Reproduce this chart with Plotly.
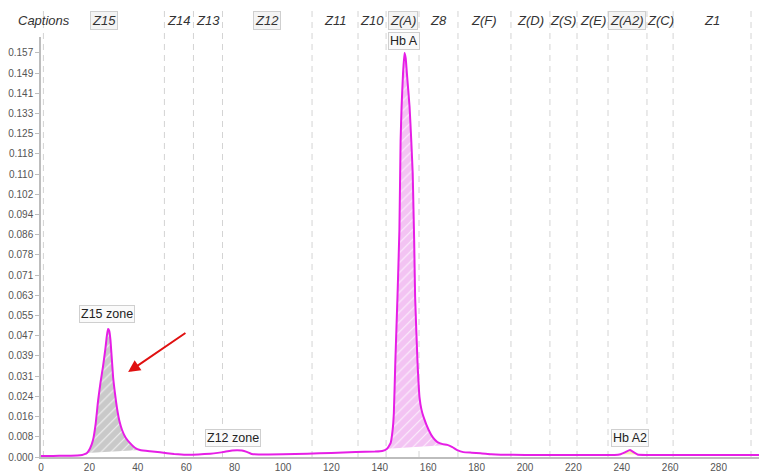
import plotly.graph_objects as go

# ---- data ----
curve_x = [0, 5, 10, 15, 17, 18, 19.0, 20.2, 21.5, 22.6, 23.6, 24.6, 25.6, 26.6, 27.2, 27.7,
           28.2, 28.7, 29.8, 30.6, 31.4, 32.4, 33.5, 35.0, 36.8, 38.8, 40.9, 45, 49.2, 55,
           60, 65, 70, 73, 76, 79, 81, 83, 85, 87, 90, 100, 110, 120, 130, 138, 141,
           143.0, 144.5, 145.3, 145.8, 146.4, 147.3, 148.1, 148.6, 149.0, 149.6, 150.2,
           150.7, 151.2, 152.3, 153.0, 153.6, 153.9, 154.2, 154.6, 155.6, 156.4, 157.2,
           158.1, 160.2, 162.0, 163.8, 166.0, 167.9, 170.0, 172.0, 174.5, 178, 181.6, 186,
           190, 200, 220, 237, 239.5, 241.5, 243.4, 245.0, 246.5, 250, 260, 280, 300]
curve_y = [0.0004, 0.0004, 0.0005, 0.0006, 0.0008, 0.0011, 0.0016, 0.0032, 0.0066, 0.0130, 0.0220,
           0.0290, 0.0350, 0.0420, 0.0470, 0.0497, 0.0490, 0.0455, 0.0310, 0.0245, 0.0190,
           0.0140, 0.0105, 0.0075, 0.0054, 0.0036, 0.0027, 0.0022, 0.0018, 0.0012,
           0.0009, 0.0010, 0.0013, 0.0016, 0.0020, 0.0025, 0.0026, 0.0025, 0.0020, 0.0012,
           0.0010, 0.0011, 0.0013, 0.0016, 0.0019, 0.0021, 0.0023,
           0.0032, 0.0055, 0.0105, 0.0170, 0.0365, 0.0622, 0.0882, 0.1230, 0.1360,
           0.1490, 0.1570, 0.1550, 0.1490, 0.1360, 0.1230, 0.1100, 0.0970, 0.0843, 0.0622,
           0.0365, 0.0233, 0.0185, 0.0155, 0.0105, 0.0075, 0.0058, 0.0050, 0.0047, 0.0038,
           0.0027, 0.0019, 0.0017, 0.0015, 0.0011,
           0.0009, 0.0008, 0.0008, 0.0008, 0.0011, 0.0019, 0.0027, 0.0018, 0.0010, 0.0008,
           0.0008, 0.0008, 0.0008]

zone_names = ["Z15", "Z14", "Z13", "Z12", "Z11", "Z10", "Z(A)", "Z8", "Z(F)", "Z(D)",
              "Z(S)", "Z(E)", "Z(A2)", "Z(C)", "Z1"]
zone_bounds = [1, 51, 63, 75, 112, 131, 142.6, 156.2, 172.3, 194.2, 210.3, 221.5,
               234.3, 250.4, 261.2, 293.4]
boxed_zones = ["Z15", "Z12", "Z(A)", "Z(A2)"]

peak_labels = ["Z15 zone", "Z12 zone", "Hb A", "Hb A2"]
peak_label_x = [27.3, 79.3, 150.2, 243.4]
peak_label_y = [0.0556, 0.0072, 0.1617, 0.0074]

fill_ranges = [(19.0, 40.9), (143.0, 167.9), (239.5, 246.5)]
fill_colors = ["#c9c9c9", "#f3c3f3", "#f6f0b0"]
fill_patterns = ["/", "/", ""]

y_tick_vals = [i * 0.00785 for i in range(21)]
y_tick_text = ["0.000", "0.008", "0.016", "0.024", "0.031", "0.039", "0.047", "0.055",
               "0.063", "0.071", "0.078", "0.086", "0.094", "0.102", "0.110", "0.118",
               "0.125", "0.133", "0.141", "0.149", "0.157"]
x_tick_vals = list(range(0, 301, 20))

CURVE = "#e61ee6"
FONT = "Liberation Sans, Arial, Helvetica, sans-serif"

fig = go.Figure()

# filled peak areas (closed polygon -> straight valley baseline)
for (a, b), col, pat in zip(fill_ranges, fill_colors, fill_patterns):
    sx = [x for x in curve_x if a <= x <= b]
    sy = [y for x, y in zip(curve_x, curve_y) if a <= x <= b]
    kw = {}
    if pat:
        kw["fillpattern"] = dict(shape=pat, bgcolor=col, fgcolor="rgba(255,255,255,0.75)",
                                 size=7, solidity=0.15, fillmode="replace")
    fig.add_trace(go.Scatter(x=sx, y=sy, mode="lines", fill="toself", fillcolor=col,
                             line=dict(width=0), hoverinfo="skip", showlegend=False, **kw))

fig.add_trace(go.Scatter(x=curve_x, y=curve_y, mode="lines",
                         line=dict(color=CURVE, width=2, shape="spline", smoothing=0.4),
                         showlegend=False))

shapes = []
for xb in zone_bounds:
    shapes.append(dict(type="line", xref="x", yref="paper", x0=xb, x1=xb, y0=0, y1=1.07,
                       line=dict(color="#d4d4d4", width=1, dash="6px,5px"), layer="below"))

annotations = []
annotations.append(dict(text="<i>Captions</i>", xref="paper", yref="paper", x=0.043, y=1.04,
                        xanchor="right", yanchor="middle", showarrow=False,
                        font=dict(size=13, color="#333", family=FONT)))
for i, name in enumerate(zone_names):
    cx = (zone_bounds[i] + zone_bounds[i + 1]) / 2
    boxed = name in boxed_zones
    annotations.append(dict(text="<i>%s</i>" % name, xref="x", yref="paper", x=cx, y=1.04,
                            xanchor="center", yanchor="middle", showarrow=False,
                            font=dict(size=13, color="#333", family=FONT),
                            bgcolor="#f4f4f4" if boxed else None,
                            bordercolor="#cfcfcf" if boxed else None,
                            borderwidth=1 if boxed else 0, borderpad=1))
for t, lx, ly in zip(peak_labels, peak_label_x, peak_label_y):
    annotations.append(dict(text=t, x=lx, y=ly, xref="x", yref="y", showarrow=False,
                            xanchor="center", yanchor="middle",
                            font=dict(size=12.5, color="#222", family=FONT),
                            bgcolor="rgba(250,250,250,0.95)", bordercolor="#cfcfcf",
                            borderwidth=1, borderpad=1))
annotations.append(dict(x=36.0, y=0.033, ax=60.3, ay=0.0486, xref="x", yref="y",
                        axref="x", ayref="y", text="", showarrow=True, arrowhead=2,
                        arrowsize=1.2, arrowwidth=2, arrowcolor="#e01010"))

# page body adds an 8px offset; the figure is sized/margined so the plot area
# lands where the reference has it
fig.update_layout(
    width=759, height=466,
    margin=dict(l=33, r=0, t=29, b=17, autoexpand=False),
    paper_bgcolor="white", plot_bgcolor="white",
    shapes=shapes, annotations=annotations,
    font=dict(family=FONT),
    xaxis=dict(range=[0, 300], tickvals=x_tick_vals, showgrid=False, zeroline=False,
               showline=True, linecolor="#bdbdbd", linewidth=1.5, ticks="",
               tickfont=dict(size=10, color="#555"), automargin=False),
    yaxis=dict(range=[0, 0.1632], tickvals=y_tick_vals, ticktext=y_tick_text,
               showgrid=False, zeroline=False, showline=True, linecolor="#bdbdbd",
               linewidth=1.5, ticks="outside", ticklen=4, tickcolor="#bdbdbd",
               tickfont=dict(size=10, color="#555"), automargin=False),
)

fig.write_html("out.html")
